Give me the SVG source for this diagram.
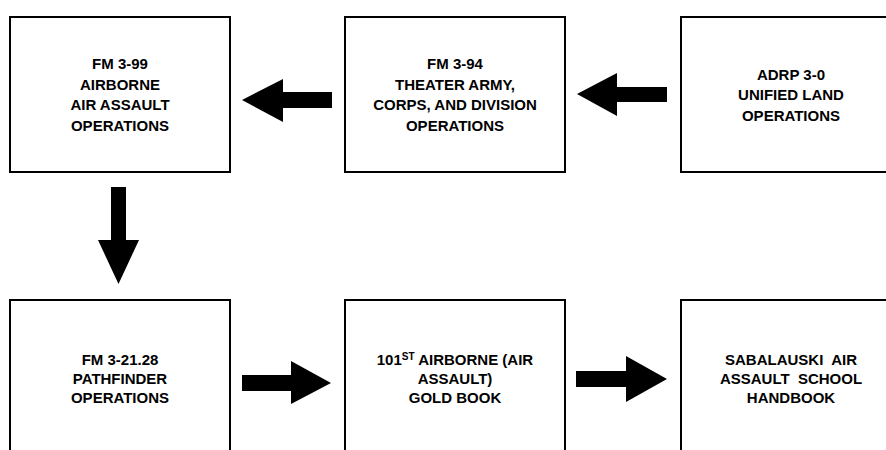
<svg xmlns="http://www.w3.org/2000/svg" width="886" height="450" viewBox="0 0 886 450">
<style>
.box{fill:#fff;stroke:#000;stroke-width:2}
.t{font-family:"Liberation Sans",Arial,sans-serif;font-weight:bold;font-size:15px;fill:#000;text-anchor:middle}
.arr{fill:#000;stroke:none}
</style>
<rect x="0" y="0" width="886" height="450" fill="#fff"/>
<g id="n-fm399">
<rect class="box" x="10" y="17" width="220" height="155"/>
<text class="t"><tspan x="120" y="69">FM 3-99</tspan><tspan x="120" y="89.5">AIRBORNE</tspan><tspan x="120" y="110">AIR ASSAULT</tspan><tspan x="120" y="130.5">OPERATIONS</tspan></text>
</g>
<g id="n-fm394">
<rect class="box" x="345" y="17" width="220" height="155"/>
<text class="t"><tspan x="455" y="69">FM 3-94</tspan><tspan x="455" y="89.5">THEATER ARMY,</tspan><tspan x="455" y="110">CORPS, AND DIVISION</tspan><tspan x="455" y="130.5">OPERATIONS</tspan></text>
</g>
<g id="n-adrp30">
<rect class="box" x="681" y="17" width="220" height="155"/>
<text class="t"><tspan x="791" y="79.5">ADRP 3-0</tspan><tspan x="791" y="100">UNIFIED LAND</tspan><tspan x="791" y="120.5">OPERATIONS</tspan></text>
</g>
<g id="n-fm32128">
<rect class="box" x="10" y="300" width="220" height="155"/>
<text class="t"><tspan x="120" y="365">FM 3-21.28</tspan><tspan x="120" y="384">PATHFINDER</tspan><tspan x="120" y="403">OPERATIONS</tspan></text>
</g>
<g id="n-goldbook">
<rect class="box" x="345" y="300" width="220" height="155"/>
<text class="t"><tspan x="455" y="365">101<tspan font-size="10" dy="-5">ST</tspan><tspan dy="5"> AIRBORNE (AIR</tspan></tspan><tspan x="455" y="384">ASSAULT)</tspan><tspan x="455" y="403">GOLD BOOK</tspan></text>
</g>
<g id="n-handbook">
<rect class="box" x="681" y="300" width="220" height="155"/>
<text class="t" xml:space="preserve"><tspan x="791" y="365">SABALAUSKI  AIR</tspan><tspan x="791" y="384">ASSAULT  SCHOOL</tspan><tspan x="791" y="403">HANDBOOK</tspan></text>
</g>
<g id="connectors">
<polygon class="arr" points="667,87 617,87 617,73 577,94 617,116 617,102 667,102"/>
<polygon class="arr" points="332,92 283,92 283,79 242,100 283,122 283,108 332,108"/>
<polygon class="arr" points="111,187 126,187 126,240 139,240 118.5,284 98,240 111,240"/>
<polygon class="arr" points="242,375 291,375 291,361 331,383 291,404 291,391 242,391"/>
<polygon class="arr" points="576,371 626,371 626,356 667,379 626,402 626,387 576,387"/>
</g>
</svg>
